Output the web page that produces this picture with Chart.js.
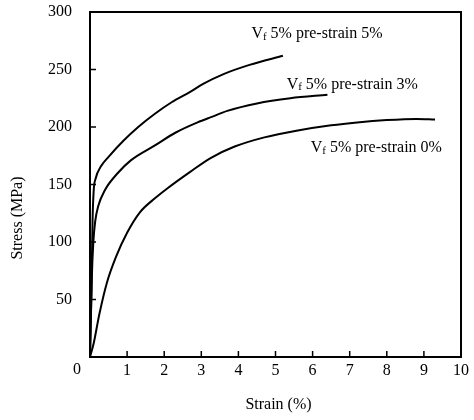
<!DOCTYPE html>
<html>
<head>
<meta charset="utf-8">
<script src="https://cdn.jsdelivr.net/npm/chart.js@4/dist/chart.umd.min.js"></script>
<style>
  html, body { margin: 0; padding: 0; background: #fff; }
  #wrap { width: 474px; height: 420px; }
</style>
</head>
<body>
<div id="wrap"><canvas id="c" width="474" height="420"></canvas></div>
<script>
// ---- data (strain %, stress MPa) ----
const strain5 = [0, 0.04, 0.07, 0.1, 0.15, 0.3, 0.5, 0.9, 1.3, 1.75, 2.2, 2.7, 3.05, 3.6, 4.3, 5.2];
const stress5 = [0, 60, 120, 145, 155, 166, 174, 188, 200, 211.5, 221.5, 230.5, 237.5, 246, 254, 262];

const strain3 = [0, 0.05, 0.09, 0.14, 0.22, 0.4, 0.75, 1.1, 1.75, 2.3, 2.9, 3.3, 3.7, 4.5, 5.4, 6.4];
const stress3 = [0, 70, 100, 118, 131, 145, 160, 171, 184, 195, 204, 209, 214, 220.5, 225, 228];

const strain0 = [0, 0.1, 0.25, 0.45, 0.7, 1.0, 1.35, 1.75, 2.1, 2.7, 3.25, 3.9, 4.7, 5.6, 6.5, 7.2, 8.0, 8.8, 9.3];
const stress0 = [0, 12, 37, 64, 87, 108, 126, 138, 147, 161, 173, 183, 191, 197, 201.5, 204, 206, 207, 206.5];

const seriesNames = ["pre-strain 5%", "pre-strain 3%", "pre-strain 0%"];
const labelAnchors = [[4.35, 281], [5.3, 237], [5.95, 182]]; // data-space anchors for series labels

const xTicks = [1, 2, 3, 4, 5, 6, 7, 8, 9, 10];
const yTicks = [50, 100, 150, 200, 250, 300];
const xTitle = "Strain (%)";
const yTitle = "Stress (MPa)";

const toPts = (xs, ys) => xs.map((x, i) => ({ x: x, y: ys[i] }));

const FONT = "'Liberation Serif', 'Times New Roman', serif";

const ds = (pts) => ({
  data: pts, borderColor: '#000', borderWidth: 2, pointRadius: 0,
  fill: false, cubicInterpolationMode: 'monotone'
});

const decor = {
  id: 'decor',
  afterDraw(chart) {
    const ctx = chart.ctx, a = chart.chartArea;
    const xs = chart.scales.x, ys = chart.scales.y;
    ctx.save();
    ctx.strokeStyle = '#000';
    ctx.lineWidth = 2;
    ctx.strokeRect(a.left, a.top, a.right - a.left, a.bottom - a.top);
    ctx.lineWidth = 1.5;
    xTicks.forEach(v => {
      if (v >= 10) return;
      const px = xs.getPixelForValue(v);
      ctx.beginPath(); ctx.moveTo(px, a.bottom); ctx.lineTo(px, a.bottom - 6); ctx.stroke();
    });
    yTicks.forEach(v => {
      if (v >= 300) return;
      const py = ys.getPixelForValue(v);
      ctx.beginPath(); ctx.moveTo(a.left, py); ctx.lineTo(a.left + 6, py); ctx.stroke();
    });
    ctx.fillStyle = '#000';
    ctx.font = '16px ' + FONT;
    ctx.textAlign = 'center'; ctx.textBaseline = 'middle';
    ctx.fillText('0', xs.getPixelForValue(0) - 13, a.bottom + 13);
    ctx.fillText(xTitle, (a.left + a.right) / 2 + 3, 405);
    ctx.save();
    ctx.translate(18, 218);
    ctx.rotate(-Math.PI / 2);
    ctx.fillText(yTitle, 0, 0);
    ctx.restore();
    seriesNames.forEach((name, i) => {
      const px = xs.getPixelForValue(labelAnchors[i][0]);
      const py = ys.getPixelForValue(labelAnchors[i][1]);
      ctx.textAlign = 'left'; ctx.textBaseline = 'middle';
      ctx.font = '16px ' + FONT;
      ctx.fillText('V', px, py);
      let x = px + ctx.measureText('V').width;
      ctx.font = '11px ' + FONT;
      ctx.fillText('f', x, py + 3);
      x += ctx.measureText('f').width;
      ctx.font = '16px ' + FONT;
      ctx.fillText(' 5% ' + name, x, py);
    });
    ctx.restore();
  }
};

new Chart(document.getElementById('c'), {
  type: 'line',
  data: { datasets: [ds(toPts(strain5, stress5)), ds(toPts(strain3, stress3)), ds(toPts(strain0, stress0))] },
  options: {
    responsive: false,
    animation: false,
    devicePixelRatio: 1,
    layout: { padding: { top: 12, right: 13, left: 0, bottom: 0 } },
    plugins: { legend: { display: false }, tooltip: { enabled: false } },
    scales: {
      x: {
        type: 'linear', min: 0, max: 10,
        afterBuildTicks(s) { s.ticks = xTicks.map(v => ({ value: v })); },
        afterFit(s) { s.height = 63; s.paddingLeft = 0; s.paddingRight = 0; },
        grid: { display: false, drawTicks: false },
        border: { display: false },
        ticks: { color: '#000', font: { family: FONT, size: 16 }, padding: 4, maxRotation: 0 }
      },
      y: {
        type: 'linear', min: 0, max: 300,
        afterBuildTicks(s) { s.ticks = yTicks.map(v => ({ value: v })); },
        afterFit(s) { s.width = 90; s.paddingTop = 0; s.paddingBottom = 0; },
        grid: { display: false, drawTicks: false },
        border: { display: false },
        ticks: { color: '#000', font: { family: FONT, size: 16 }, padding: 18 }
      }
    }
  },
  plugins: [decor]
});
</script>
</body>
</html>
